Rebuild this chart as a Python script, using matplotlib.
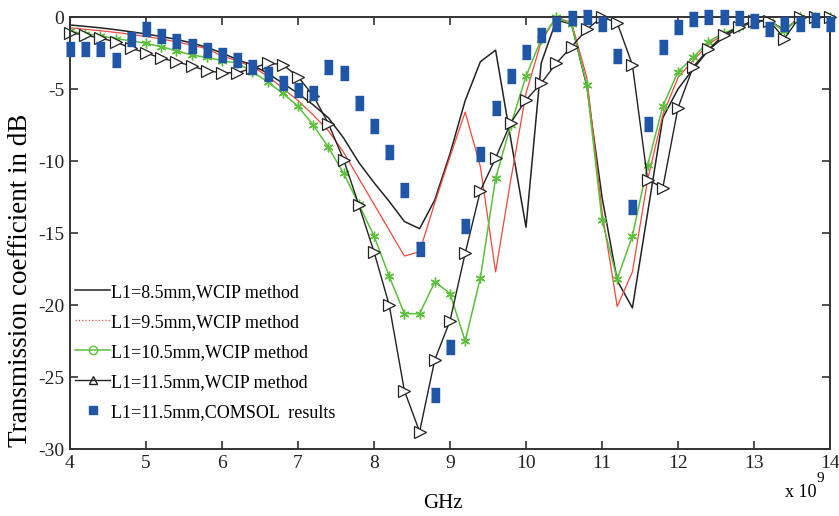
import numpy as np
import matplotlib
matplotlib.use("Agg")
import matplotlib.pyplot as plt
from matplotlib.lines import Line2D

plt.rcParams['font.family'] = ['Liberation Serif', 'DejaVu Serif']
plt.rcParams['axes.unicode_minus'] = False

# ----------------------------
# Data (frequency in GHz, S21 in dB)
# ----------------------------
freq = [4.0, 4.2, 4.4, 4.6, 4.8, 5.0, 5.2, 5.4, 5.6, 5.8,
        6.0, 6.2, 6.4, 6.6, 6.8, 7.0, 7.2, 7.4, 7.6, 7.8,
        8.0, 8.2, 8.4, 8.6, 8.8, 9.0, 9.2, 9.4, 9.6, 9.8,
        10.0, 10.2, 10.4, 10.6, 10.8, 11.0, 11.2, 11.4, 11.6, 11.8,
        12.0, 12.2, 12.4, 12.6, 12.8, 13.0, 13.2, 13.4, 13.6, 13.8, 14.0]

wcip_85 = [-0.55, -0.65, -0.75, -0.88, -1.02, -1.18, -1.35, -1.55, -1.8, -2.1,
           -2.5, -2.95, -3.35, -3.9, -4.6, -5.3, -6.1, -7.0, -8.4, -10.1,
           -11.5, -12.8, -14.2, -14.7, -12.7, -9.5, -5.8, -3.1, -2.3, -8.5,
           -14.6, -3.2, -0.2, -0.5, -4.8, -12.5, -18.3, -20.2, -13.6, -7.0,
           -5.0, -3.6, -2.3, -1.4, -0.75, -0.3, -0.25, -0.9, -0.05, 0.0, 0.0]

wcip_95 = [-0.75, -0.85, -0.95, -1.07, -1.2, -1.35, -1.52, -1.72, -1.95, -2.2,
           -2.7, -3.05, -3.45, -4.1, -4.95, -5.8, -6.8, -7.9, -9.4, -11.2,
           -13.0, -14.8, -16.6, -16.3, -12.9, -9.7, -6.6, -10.4, -17.7, -11.3,
           -5.3, -1.7, 0.0, -0.4, -4.2, -13.5, -20.1, -17.7, -11.3, -6.8,
           -4.2, -3.0, -1.9, -1.2, -0.7, -0.25, -0.25, -0.95, 0.0, 0.0, 0.0]

wcip_105 = [-1.0, -1.15, -1.3, -1.5, -1.65, -1.83, -2.06, -2.34, -2.64, -2.8,
            -3.03, -3.2, -3.8, -4.5, -5.3, -6.2, -7.5, -9.05, -10.85, -13.0,
            -15.2, -18.0, -20.6, -20.6, -18.4, -19.2, -22.5, -18.1, -11.2, -7.5,
            -4.1, -1.55, 0.0, -0.5, -4.7, -14.1, -18.2, -15.2, -10.3, -6.2,
            -3.8, -2.8, -1.7, -1.13, -0.67, -0.25, -0.25, -1.0, 0.0, 0.0, 0.0]

wcip_115 = [-1.09, -1.25, -1.48, -1.71, -2.17, -2.48, -2.87, -3.1, -3.4, -3.73,
            -3.87, -3.87, -3.56, -3.2, -3.3, -4.15, -5.45, -7.4, -9.9, -13.05,
            -16.3, -20.0, -25.95, -28.8, -23.8, -21.1, -16.4, -12.06, -9.8, -7.34,
            -5.76, -4.6, -3.2, -2.06, -0.86, 0.0, -0.4, -3.33, -11.3, -11.85,
            -6.3, -3.45, -2.25, -1.25, -0.67, -0.25, -0.25, -1.5, 0.0, 0.0, 0.0]

comsol_115 = [-2.25, -2.25, -2.25, -3.0, -1.5, -0.8, -1.3, -1.67, -2.0, -2.3,
              -2.64, -3.0, -3.45, -3.96, -4.6, -5.07, -5.25, -3.45, -3.9, -6.0,
              -7.57, -9.4, -12.0, -16.1, -26.25, -22.9, -14.5, -9.5, -6.3, -4.1,
              -2.45, -1.25, -0.5, -0.1, 0.0, -0.5, -2.7, -13.2, -7.4, -2.1,
              -0.7, -0.15, 0.0, 0.0, -0.1, -0.25, -0.8, -0.5, -0.5, -0.2, -0.5]

labels = ["L1=8.5mm,WCIP method", "L1=9.5mm,WCIP method",
          "L1=10.5mm,WCIP method", "L1=11.5mm,WCIP method",
          "L1=11.5mm,COMSOL  results"]

green = '#5cbf3c'
red = '#f0483e'
blue = '#1f56a6'
bar_marker = [(-0.6, -1), (0.6, -1), (0.6, 1), (-0.6, 1)]

# ----------------------------
# Plot
# ----------------------------
fig = plt.figure(figsize=(8.39, 5.16), dpi=100)
ax = fig.add_axes([0.0834, 0.1298, 0.9059, 0.8372])

ax.plot(freq, wcip_85, color='#222222', lw=1.1, clip_on=False)
ax.plot(freq, wcip_95, color=red, lw=0.9, clip_on=False)
ax.plot(freq, wcip_105, color=green, lw=1.1, marker=(6, 2, 0), ms=7,
        mew=1.0, clip_on=False)
ax.plot(freq, wcip_115, color='#222222', lw=1.0, marker='>', ms=8.5,
        mfc='white', mec='#222222', mew=0.9, clip_on=False)
ax.plot(freq, comsol_115, ls='none', marker=bar_marker, ms=10,
        color=blue, mec=blue, clip_on=False, zorder=5)

ax.set_xlim(4, 14)
ax.set_ylim(-30, 0)
ax.set_xticks(range(4, 15))
ax.set_yticks(range(-30, 1, 5))
ax.tick_params(direction='in', length=6, width=1.1, top=True, right=True,
               labelsize=14, colors='#222222', pad=4)
for s in ax.spines.values():
    s.set_linewidth(1.4)
    s.set_color('#333333')

ax.set_ylabel("Transmission coefficient in dB", fontsize=19.5)
ax.yaxis.set_label_coords(-0.048, 0.39)
ax.set_xlabel("GHz", fontsize=15)
ax.xaxis.set_label_coords(0.49, -0.105)
fig.text(0.936, 0.03, "x 10", fontsize=13, ha='left', va='bottom')
fig.text(0.973, 0.06, "9", fontsize=11, ha='left', va='bottom')

handles = [
    Line2D([], [], color='#222222', lw=1.1),
    Line2D([], [], color=red, lw=0.9, ls=':'),
    Line2D([], [], color=green, lw=1.1, marker='o', mfc='none', ms=6),
    Line2D([], [], color='#222222', lw=1.0, marker='^', mfc='none', ms=6),
    Line2D([], [], ls='none', marker='s', color=blue, ms=6),
]
ax.legend(handles, labels, loc='upper left', bbox_to_anchor=(0.0, 0.395),
          frameon=False, fontsize=13, handlelength=1.9, handletextpad=0.05,
          labelspacing=0.72, borderpad=0, borderaxespad=0.3)

plt.savefig("out.png", dpi=100)
plt.close()
